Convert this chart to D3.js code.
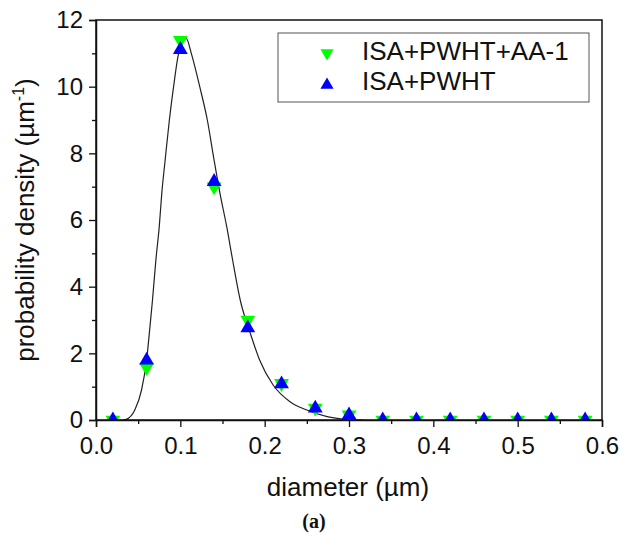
<!DOCTYPE html>
<html>
<head>
<meta charset="utf-8">
<script src="https://cdn.jsdelivr.net/npm/d3@7"></script>
<style>
  body { margin: 0; background: #fff; }
  svg text { font-family: Arial, "Liberation Sans", sans-serif; fill: #111; }
</style>
</head>
<body>
<div id="chart"></div>
<script>
// measured diameters (µm)
const diameters = [0.02, 0.06, 0.10, 0.14, 0.18, 0.22, 0.26, 0.30, 0.34, 0.38, 0.42, 0.46, 0.50, 0.54, 0.58];
// probability density, per series
const aa1  = [0.0, 1.58, 11.39, 7.0, 3.0, 1.1, 0.36, 0.16, 0.0, 0.0, 0.0, 0.0, 0.0, 0.0, 0.0];
const pwht = [0.0, 1.79, 11.11, 7.15, 2.76, 1.08, 0.35, 0.15, 0.0, 0.0, 0.0, 0.0, 0.0, 0.0, 0.0];
// fitted curve
const fitX = [0.032, 0.036, 0.046, 0.054, 0.060, 0.064, 0.067, 0.071, 0.075, 0.078, 0.082, 0.087, 0.092, 0.098,
              0.107, 0.113, 0.123, 0.132, 0.140, 0.147, 0.155, 0.162, 0.171, 0.183, 0.194, 0.210, 0.230, 0.250,
              0.274, 0.297, 0.317];
const fitY = [0, 0.02, 0.3, 0.9, 1.8, 2.8, 3.6, 4.8, 5.8, 6.8, 7.8, 9.0, 10.0, 11.0,
              11.45, 11.0, 10.0, 9.0, 7.8, 6.8, 5.8, 4.8, 3.6, 2.6, 1.8, 1.05, 0.55, 0.3,
              0.1, 0.02, 0];
const xTicks = [0.0, 0.1, 0.2, 0.3, 0.4, 0.5, 0.6];
const yTicks = [0, 2, 4, 6, 8, 10, 12];
const seriesNames = ['ISA+PWHT+AA-1', 'ISA+PWHT'];

const W = 622, H = 533;
const M = { top: 20, right: 20, bottom: 113, left: 96 };
const innerW = W - M.left - M.right, innerH = H - M.top - M.bottom;

const svg = d3.select('#chart').append('svg').attr('width', W).attr('height', H);
const g = svg.append('g').attr('transform', `translate(${M.left},${M.top})`);

svg.append('clipPath').attr('id', 'plot-clip')
  .append('rect').attr('width', innerW).attr('height', innerH);

const x = d3.scaleLinear().domain([0, 0.6]).range([0, innerW]);
const y = d3.scaleLinear().domain([0, 12]).range([innerH, 0]);

// minor ticks
const xMinor = d3.range(0.05, 0.6, 0.1);
const yMinor = d3.range(1, 12, 2);
g.append('g').attr('transform', `translate(0,${innerH})`)
  .call(d3.axisBottom(x).tickValues(xMinor).tickSize(4).tickFormat(''))
  .call(a => a.select('.domain').remove())
  .selectAll('line').attr('stroke-width', 1.3).attr('stroke', '#111');
g.append('g')
  .call(d3.axisLeft(y).tickValues(yMinor).tickSize(4).tickFormat(''))
  .call(a => a.select('.domain').remove())
  .selectAll('line').attr('stroke-width', 1.3).attr('stroke', '#111');

// fitted curve
const line = d3.line().curve(d3.curveMonotoneX).x((d, i) => x(fitX[i])).y(d => y(d));
g.append('path').datum(fitY)
  .attr('fill', 'none').attr('stroke', '#222').attr('stroke-width', 1.2)
  .attr('d', line);

const tri = d3.symbol().type(d3.symbolTriangle).size(95);
const marks = g.append('g').attr('clip-path', 'url(#plot-clip)');

// green down triangles
marks.append('g').selectAll('path').data(aa1).join('path')
  .attr('d', tri)
  .attr('transform', (d, i) => `translate(${x(diameters[i])},${y(d)}) rotate(180)`)
  .attr('fill', '#00ff00');

// blue up triangles
marks.append('g').selectAll('path').data(pwht).join('path')
  .attr('d', tri)
  .attr('transform', (d, i) => `translate(${x(diameters[i])},${y(d)})`)
  .attr('fill', '#0000ff');

// frame
g.append('rect').attr('width', innerW).attr('height', innerH)
  .attr('fill', 'none').attr('stroke', '#111').attr('stroke-width', 1.5);

// major axes
const xa = g.append('g').attr('transform', `translate(0,${innerH})`)
  .call(d3.axisBottom(x).tickValues(xTicks).tickSize(7).tickPadding(10).tickFormat(d3.format('.1f')));
const ya = g.append('g')
  .call(d3.axisLeft(y).tickValues(yTicks).tickSize(7).tickPadding(6));
[xa, ya].forEach(a => {
  a.select('.domain').attr('stroke-width', 1.5).attr('stroke', '#111');
  a.selectAll('line').attr('stroke-width', 1.3).attr('stroke', '#111');
  a.selectAll('text').attr('font-size', 24).attr('font-family', 'Arial, "Liberation Sans", sans-serif').attr('fill', '#111');
});

// legend
const lg = svg.append('g');
lg.append('rect').attr('x', 278).attr('y', 33).attr('width', 311).attr('height', 69)
  .attr('fill', '#fff').attr('stroke', '#555').attr('stroke-width', 1);
const small = d3.symbol().type(d3.symbolTriangle).size(75);
lg.append('path').attr('d', small).attr('transform', 'translate(327,53) rotate(180)').attr('fill', '#00ff00');
lg.append('path').attr('d', small).attr('transform', 'translate(327,85)').attr('fill', '#0000ff');
seriesNames.forEach((s, i) => {
  lg.append('text').attr('x', 362).attr('y', 60 + i * 30).attr('font-size', 26).text(s);
});

// axis titles
svg.append('text').attr('x', 348).attr('y', 496)
  .attr('text-anchor', 'middle').attr('font-size', 26).text('diameter (\u00b5m)');
const yt = svg.append('text')
  .attr('transform', `translate(34,${M.top + innerH / 2}) rotate(-90)`)
  .attr('text-anchor', 'middle').attr('font-size', 26);
yt.append('tspan').text('probability density (\u00b5m');
yt.append('tspan').attr('dy', -10).attr('font-size', 16).text('-1');
yt.append('tspan').attr('dy', 10).text(')');

svg.append('text').attr('x', 314).attr('y', 528).attr('text-anchor', 'middle')
  .attr('font-size', 20).attr('font-weight', 'bold')
  .style('font-family', '"Liberation Serif", "Times New Roman", serif').text('(a)');
</script>
</body>
</html>
